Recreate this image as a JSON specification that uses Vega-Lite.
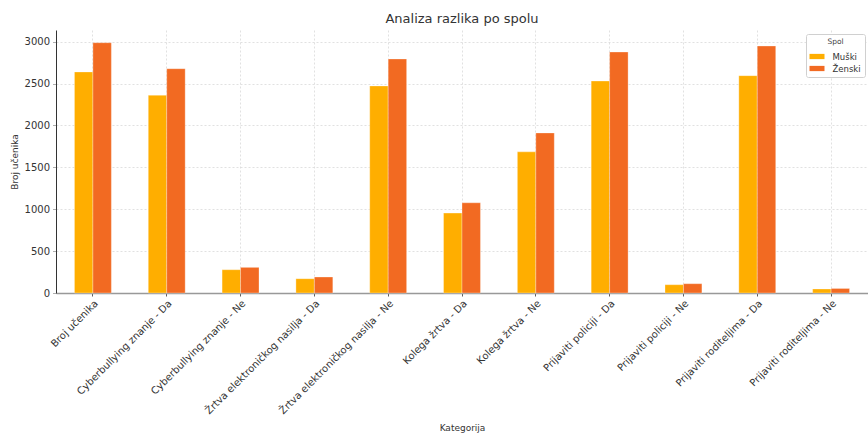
{
  "$schema": "https://vega.github.io/schema/vega-lite/v6.json",
  "width": 812,
  "height": 263,
  "autosize": {"type": "none"},
  "padding": {"left": 56, "top": 30, "right": 0, "bottom": 141},
  "background": "white",
  "title": {"text": "Analiza razlika po spolu", "font": "DejaVu Sans", "fontSize": 13, "fontWeight": "normal", "color": "#333333", "anchor": "middle", "offset": 4},
  "data": {"values": [
    {"kategorija": "Broj učenika", "spol": "Muški", "broj": 2639},
    {"kategorija": "Broj učenika", "spol": "Ženski", "broj": 2988},
    {"kategorija": "Cyberbullying znanje - Da", "spol": "Muški", "broj": 2361},
    {"kategorija": "Cyberbullying znanje - Da", "spol": "Ženski", "broj": 2678},
    {"kategorija": "Cyberbullying znanje - Ne", "spol": "Muški", "broj": 278},
    {"kategorija": "Cyberbullying znanje - Ne", "spol": "Ženski", "broj": 306},
    {"kategorija": "Žrtva elektroničkog nasilja - Da", "spol": "Muški", "broj": 171},
    {"kategorija": "Žrtva elektroničkog nasilja - Da", "spol": "Ženski", "broj": 191},
    {"kategorija": "Žrtva elektroničkog nasilja - Ne", "spol": "Muški", "broj": 2472},
    {"kategorija": "Žrtva elektroničkog nasilja - Ne", "spol": "Ženski", "broj": 2794},
    {"kategorija": "Kolega žrtva - Da", "spol": "Muški", "broj": 954},
    {"kategorija": "Kolega žrtva - Da", "spol": "Ženski", "broj": 1077},
    {"kategorija": "Kolega žrtva - Ne", "spol": "Muški", "broj": 1685},
    {"kategorija": "Kolega žrtva - Ne", "spol": "Ženski", "broj": 1911},
    {"kategorija": "Prijaviti policiji - Da", "spol": "Muški", "broj": 2531},
    {"kategorija": "Prijaviti policiji - Da", "spol": "Ženski", "broj": 2877},
    {"kategorija": "Prijaviti policiji - Ne", "spol": "Muški", "broj": 99},
    {"kategorija": "Prijaviti policiji - Ne", "spol": "Ženski", "broj": 111},
    {"kategorija": "Prijaviti roditeljima - Da", "spol": "Muški", "broj": 2595},
    {"kategorija": "Prijaviti roditeljima - Da", "spol": "Ženski", "broj": 2949},
    {"kategorija": "Prijaviti roditeljima - Ne", "spol": "Muški", "broj": 48},
    {"kategorija": "Prijaviti roditeljima - Ne", "spol": "Ženski", "broj": 54}
  ]},
  "mark": {"type": "bar", "stroke": "white", "strokeOpacity": 0.5, "strokeWidth": 0.6},
  "encoding": {
    "x": {
      "field": "kategorija", "type": "nominal", "sort": null,
      "scale": {"paddingInner": 0.5, "paddingOuter": 0.25},
      "axis": {
        "title": "Kategorija", "labelAngle": -45, "labelAlign": "right", "labelBaseline": "top",
        "labelFont": "DejaVu Sans", "labelFontSize": 10, "labelColor": "#333333", "labelPadding": 2,
        "titleFont": "DejaVu Sans", "titleFontSize": 9, "titleFontWeight": "normal", "titleColor": "#333333",
        "titleY": 137, "titleBaseline": "alphabetic",
        "bandPosition": 0.5, "grid": true, "gridColor": "#d9d9d9", "gridDash": [2, 2], "gridWidth": 0.8,
        "domainColor": "#999999", "domainWidth": 1.5, "tickColor": "#333333", "tickSize": 3, "tickWidth": 0.8,
        "labelOverlap": false, "labelLimit": 300
      }
    },
    "xOffset": {"field": "spol", "type": "nominal", "sort": ["Muški", "Ženski"], "scale": {"paddingInner": 0, "paddingOuter": 0}},
    "y": {
      "field": "broj", "type": "quantitative",
      "scale": {"domain": [0, 3140], "nice": false},
      "axis": {
        "title": "Broj učenika", "values": [0, 500, 1000, 1500, 2000, 2500, 3000], "format": "d",
        "labelFont": "DejaVu Sans", "labelFontSize": 10, "labelColor": "#333333", "labelPadding": 3,
        "titleFont": "DejaVu Sans", "titleFontSize": 9, "titleFontWeight": "normal", "titleColor": "#333333", "titlePadding": 5,
        "grid": true, "gridColor": "#d9d9d9", "gridDash": [2, 2], "gridWidth": 0.8,
        "domainColor": "#333333", "domainWidth": 1, "tickColor": "#999999", "tickSize": 3.5, "tickWidth": 0.8
      }
    },
    "color": {
      "field": "spol", "type": "nominal",
      "scale": {"domain": ["Muški", "Ženski"], "range": ["#FFAE00", "#F26A22"]},
      "legend": {
        "title": "Spol", "orient": "none", "legendX": 750, "legendY": 4,
        "titleFont": "DejaVu Sans", "titleFontSize": 7.5, "titleFontWeight": "normal", "titleColor": "#444444",
        "titleAnchor": "middle", "titlePadding": 4,
        "labelFont": "DejaVu Sans", "labelFontSize": 8.5, "labelColor": "#333333", "labelOffset": 8,
        "symbolType": "M-1,-0.35H1V0.35H-1Z", "symbolSize": 225, "symbolStrokeWidth": 0,
        "rowPadding": 0, "padding": 3.5, "fillColor": "white", "strokeColor": "#d0d0d0", "cornerRadius": 2
      }
    }
  },
  "config": {"view": {"stroke": null}, "font": "DejaVu Sans"}
}
